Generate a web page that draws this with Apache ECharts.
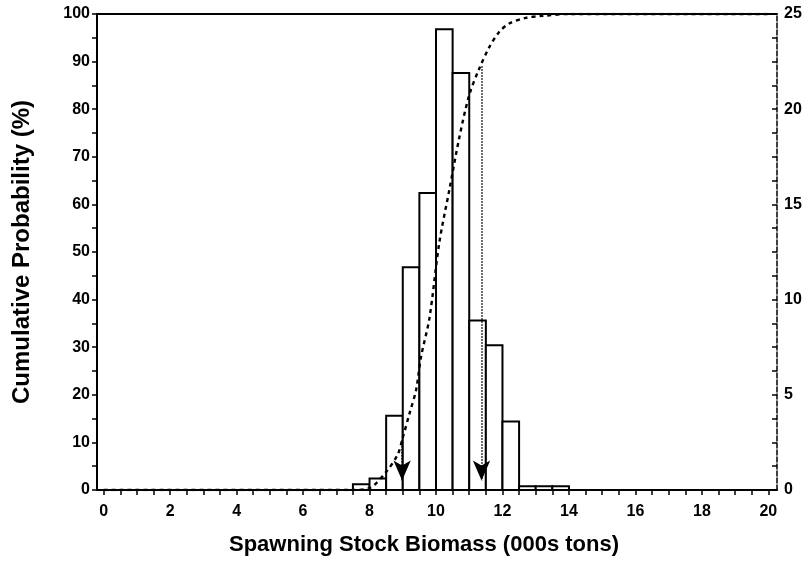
<!DOCTYPE html>
<html>
<head>
<meta charset="utf-8">
<script src="https://cdn.jsdelivr.net/npm/echarts@6/dist/echarts.min.js"></script>
<style>
  html, body { margin: 0; background: #fff; }
  #chart { width: 809px; height: 561px; }
</style>
</head>
<body>
<div id="chart"></div>
<script>
// histogram, bins of 0.5 (000s tons), frequency on right axis
const binStart = [7.5, 8.0, 8.5, 9.0, 9.5, 10.0, 10.5, 11.0, 11.5, 12.0, 12.5, 13.0, 13.5];
const binFreq = [0.3, 0.6, 3.9, 11.7, 15.6, 24.2, 21.9, 8.9, 7.6, 3.6, 0.2, 0.2, 0.2];
const binWidth = 0.5;

// cumulative probability curve (%)
const cumX = [0, 7.5, 8.0, 8.5, 8.85, 9.0, 9.2, 9.4, 9.55, 9.8, 10.1, 10.4, 10.7, 11.0, 11.3, 11.6, 11.9, 12.2, 12.7, 13.2, 14, 20];
const cumP = [0, 0, 0.4, 3.8, 7.5, 11, 16, 21, 28, 36, 52, 63, 74, 83, 88.5, 93, 96.2, 98, 99.2, 99.6, 100, 100];

// 10th / 90th percentile arrows
const arrowX = [8.98, 11.37];
const arrowTop = [10.5, 89];

const xLabels = [0, 2, 4, 6, 8, 10, 12, 14, 16, 18, 20];
const leftLabels = [0, 10, 20, 30, 40, 50, 60, 70, 80, 90, 100];
const rightLabels = [0, 5, 10, 15, 20, 25];

const xTicks = [];
for (let v = 0; v <= 20; v += 0.5) xTicks.push(v);
const leftTicks = [];
for (let v = 0; v <= 100; v += 5) leftTicks.push(v);
const rightTicks = [];
for (let v = 0; v <= 25; v += 1.25) rightTicks.push(v);

const font = 'Liberation Sans, Arial, sans-serif';
const bins = binStart.map((s, i) => [s, s + binWidth, binFreq[i]]);

const chart = echarts.init(document.getElementById('chart'));
chart.setOption({
  animation: false,
  backgroundColor: '#fff',
  grid: { left: 97, right: 32, top: 14, bottom: 62 },
  xAxis: [{
    type: 'value', min: -0.2, max: 20.26,
    name: 'Spawning Stock Biomass (000s tons)',
    nameLocation: 'middle', nameGap: 44,
    nameTextStyle: { fontFamily: font, fontSize: 22, fontWeight: 'bold', color: '#000', padding: [0, 26, 0, 0] },
    axisLine: { onZero: false, lineStyle: { color: '#000', width: 2 } },
    axisTick: { customValues: xTicks, length: 5, lineStyle: { color: '#000', width: 1.5 } },
    axisLabel: { customValues: xLabels, fontFamily: font, fontSize: 16, fontWeight: 'bold', color: '#000', margin: 14 },
    splitLine: { show: false }
  }, {
    type: 'value', min: -0.2, max: 20.26, position: 'top',
    axisLine: { show: true, onZero: false, lineStyle: { color: '#000', width: 2 } },
    axisTick: { show: false }, axisLabel: { show: false }, splitLine: { show: false }
  }],
  yAxis: [{
    type: 'value', min: 0, max: 100,
    name: 'Cumulative Probability (%)',
    nameLocation: 'middle', nameGap: 63,
    nameTextStyle: { fontFamily: font, fontSize: 24, fontWeight: 'bold', color: '#000' },
    axisLine: { show: true, onZero: false, lineStyle: { color: '#000', width: 2 } },
    axisTick: { customValues: leftTicks, length: 5, lineStyle: { color: '#000', width: 1.5 } },
    axisLabel: { customValues: leftLabels, fontFamily: font, fontSize: 16, fontWeight: 'bold', color: '#000', margin: 7 },
    splitLine: { show: false }
  }, {
    type: 'value', min: 0, max: 25, position: 'right',
    axisLine: { show: true, onZero: false, lineStyle: { color: '#000', width: 1.5, type: [5, 2] } },
    axisTick: { customValues: rightTicks, inside: true, length: 5, lineStyle: { color: '#000', width: 1.5 } },
    axisLabel: { customValues: rightLabels, fontFamily: font, fontSize: 16, fontWeight: 'bold', color: '#000', margin: 7 },
    splitLine: { show: false }
  }],
  series: [{
    type: 'custom',
    xAxisIndex: 0, yAxisIndex: 1,
    data: bins,
    encode: { x: [0, 1], y: 2 },
    z: 2,
    renderItem: function (params, api) {
      const p0 = api.coord([api.value(0), api.value(2)]);
      const p1 = api.coord([api.value(1), 0]);
      return {
        type: 'rect',
        shape: { x: p0[0], y: p0[1], width: p1[0] - p0[0], height: p1[1] - p0[1] },
        style: { fill: '#fff', stroke: '#000', lineWidth: 2 }
      };
    }
  }, {
    type: 'line',
    xAxisIndex: 0, yAxisIndex: 0,
    data: cumX.map((x, i) => [x, cumP[i]]),
    smooth: 0.3,
    showSymbol: false,
    z: 3,
    lineStyle: { color: '#000', width: 2.4, type: [4, 4] },
    markLine: {
      silent: true,
      symbol: ['none', 'arrow'],
      symbolSize: [13, 20],
      label: { show: false },
      lineStyle: { color: '#000', width: 1.5, type: 'dotted' },
      data: arrowX.map((x, i) => [{ coord: [x, arrowTop[i]] }, { coord: [x, 2] }])
    }
  }]
});
</script>
</body>
</html>
